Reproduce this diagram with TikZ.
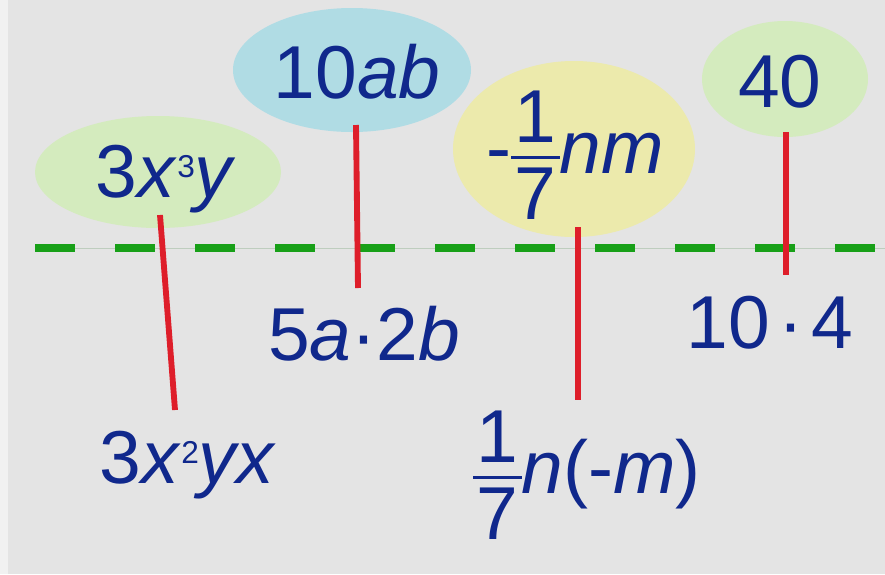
\documentclass[tikz,border=0pt]{standalone}
\usepackage{fontspec}
\setmainfont{Liberation Sans}
\usetikzlibrary{shapes.geometric}
\definecolor{bgc}{RGB}{228,228,228}
\definecolor{bgl}{RGB}{241,241,241}
\definecolor{ellg}{RGB}{212,235,190}
\definecolor{ellb}{RGB}{176,220,228}
\definecolor{elly}{RGB}{236,234,172}
\definecolor{txtb}{RGB}{16,40,140}
\definecolor{redl}{RGB}{222,30,42}
\definecolor{dashg}{RGB}{24,160,24}
\definecolor{thinl}{RGB}{190,205,190}
\newcommand\sups[1]{\raisebox{17pt}{\fontsize{27}{27}\selectfont #1}}
\newcommand\sfr[2]{\raisebox{-40pt}{\vbox{\offinterlineskip\halign{\hskip3pt\hfil##\hfil\hskip3pt\cr #1\cr\noalign{\kern11pt\hrule height2.8pt\kern8pt}#2\cr}}}}
\tikzset{
  blob/.style={ellipse, draw=none, inner sep=0pt},
  term/.style={text=txtb, inner sep=0pt, anchor=base, font=\fontsize{64}{70}\selectfont},
  link/.style={draw=redl, line width=5pt},
}
\begin{document}
\begin{tikzpicture}[x=0.03cm,y=-0.03cm]
\useasboundingbox (0,0) rectangle (885,574);
\fill[bgc] (0,0) rectangle (885,574);
\fill[bgl] (0,0) rectangle (8,574);
% ellipses
\node[blob, fill=ellg, minimum width=246*0.03cm, minimum height=112*0.03cm] (e1) at (158,172) {};
\node[blob, fill=ellb, minimum width=238*0.03cm, minimum height=124*0.03cm] (e2) at (352,70) {};
\node[blob, fill=elly, minimum width=242*0.03cm, minimum height=176*0.03cm] (e3) at (574,149) {};
\node[blob, fill=ellg, minimum width=166*0.03cm, minimum height=116*0.03cm] (e4) at (785,79) {};
% dashed line
\coordinate (dl) at (35,248);
\coordinate (dr) at (885,248);
\draw[thinl, line width=0.8pt] (dl) -- (dr);
\draw[dashg, line width=6pt, dash pattern=on 1.2cm off 1.2cm] (dl) -- (dr);
% red lines
\coordinate (r1a) at (160,215); \coordinate (r1b) at (175,410);
\coordinate (r2a) at (356,125); \coordinate (r2b) at (358,288);
\coordinate (r3a) at (578,227); \coordinate (r3b) at (578,400);
\coordinate (r4a) at (786,132); \coordinate (r4b) at (786,275);
\draw[link] (r1a) -- (r1b);
\draw[link] (r2a) -- (r2b);
\draw[link] (r3a) -- (r3b);
\draw[link] (r4a) -- (r4b);
% texts
\node[term] (t1) at (166,197) {3\textit{x}\sups{3}\textit{y}};
\node[term] (t2) at (357,98) {10\textit{ab}};
\node[term] (t3) at (575,173) {-\sfr{1}{7}\textit{nm}};
\node[term] (t4) at (780,107) {40};
\node[term] (t5) at (364,360) {5\textit{a}·2\textit{b}};
\node[term] (t6) at (188,483) {3\textit{x}\sups{2}\textit{yx}};
\node[term] (t7) at (770,348) {10\kern7pt·\kern7pt4};
\node[term] (t8) at (587,493) {\sfr{1}{7}\textit{n}(-\textit{m})};
\end{tikzpicture}
\end{document}
